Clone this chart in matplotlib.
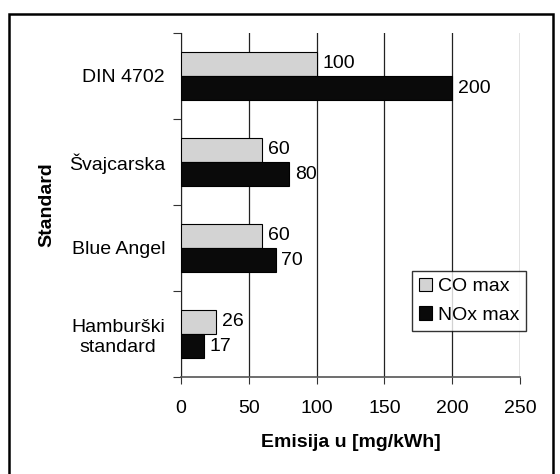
import numpy as np
import matplotlib
matplotlib.use("Agg")
import matplotlib.pyplot as plt
from matplotlib.patches import Rectangle

plt.rcParams['font.family'] = ['Liberation Sans', 'DejaVu Sans']

categories = ['DIN 4702', 'Švajcarska', 'Blue Angel', 'Hamburški\nstandard']
co_max = [100, 60, 60, 26]
nox_max = [200, 80, 70, 17]
xticks = [0, 50, 100, 150, 200, 250]

fig = plt.figure(figsize=(5.6, 4.74), dpi=100)
ax = fig.add_axes([181/560, 1 - 377/474, 339/560, 344/474])

y = np.arange(len(categories))
h = 0.28
b1 = ax.barh(y - h/2, co_max, height=h, color='#d3d3d3', edgecolor='black', linewidth=0.8, label='CO max', zorder=3)
b2 = ax.barh(y + h/2, nox_max, height=h, color='#0a0a0a', edgecolor='black', linewidth=0.8, label='NOx max', zorder=3)

for bars, vals in ((b1, co_max), (b2, nox_max)):
    for r, v in zip(bars, vals):
        ax.text(r.get_width() + 4, r.get_y() + r.get_height()/2, str(v),
                va='center', ha='left', fontsize=14, zorder=4)

ax.set_ylim(3.5, -0.5)
ax.set_xlim(0, 250)
ax.set_xticks(xticks)
ax.set_yticks(y)
ax.set_yticklabels(categories, multialignment='center')
ax.set_yticks(np.arange(-0.5, 4, 1), minor=True)
ax.tick_params(axis='y', which='major', length=0, pad=11.5, labelsize=14)
ax.tick_params(axis='y', which='minor', length=6, width=0.8, color='#333333')
ax.tick_params(axis='x', length=5, width=0.8, color='#333333', pad=11.5, labelsize=14)

ax.grid(axis='x', color='#222222', linewidth=0.9, zorder=0)
for s in ('top', 'right'):
    ax.spines[s].set_visible(False)
ax.spines['left'].set_color('#222222')
ax.spines['bottom'].set_color('#555555')
ax.spines['bottom'].set_linewidth(1.2)

ax.set_xlabel('Emisija u [mg/kWh]', fontsize=14, fontweight='bold', labelpad=12)
ax.set_ylabel('Standard', fontsize=14, fontweight='bold', labelpad=10)

leg = ax.legend(loc='upper left', bbox_to_anchor=(412/560, 1 - 271/474),
                bbox_transform=fig.transFigure, fontsize=14, frameon=True,
                fancybox=False, handlelength=0.7, handleheight=0.7,
                handletextpad=0.3, borderpad=0.35, labelspacing=0.55,
                borderaxespad=0)
leg.get_frame().set_edgecolor('black')
leg.get_frame().set_linewidth(1.0)

fig.patches.append(Rectangle((9/560, -0.02), 544/560, 1 - 14/474 + 0.02,
                             transform=fig.transFigure, fill=False,
                             edgecolor='black', linewidth=1.8))

fig.savefig('out.png', dpi=100)
